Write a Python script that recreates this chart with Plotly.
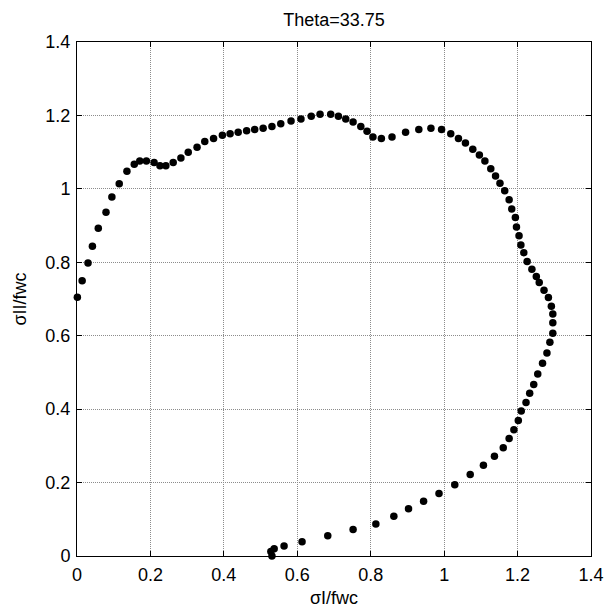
import plotly.graph_objects as go

# stress path
sigma_1 = [0.001, 0.014, 0.030, 0.042, 0.058, 0.079, 0.095, 0.115, 0.136, 0.156,
           0.171, 0.189, 0.210, 0.226, 0.242, 0.262, 0.283, 0.303, 0.327, 0.348,
           0.372, 0.396, 0.417, 0.439, 0.462, 0.484, 0.507, 0.531, 0.555, 0.583,
           0.610, 0.638, 0.662, 0.691, 0.712, 0.732, 0.752, 0.773, 0.790, 0.806,
           0.829, 0.858, 0.895, 0.931, 0.964, 0.993, 1.018, 1.039, 1.058, 1.078,
           1.096, 1.111, 1.127, 1.140, 1.152, 1.165, 1.177, 1.184, 1.194, 1.197,
           1.204, 1.209, 1.217, 1.226, 1.239, 1.251, 1.259, 1.272, 1.284, 1.292,
           1.296, 1.296, 1.296, 1.288, 1.280, 1.268, 1.255, 1.244, 1.233, 1.223,
           1.210, 1.202, 1.190, 1.177, 1.161, 1.137, 1.107, 1.071, 1.029, 0.986,
           0.944, 0.903, 0.863, 0.814, 0.752, 0.683, 0.613, 0.564, 0.537, 0.528,
           0.531]
sigma_2 = [0.705, 0.750, 0.798, 0.844, 0.893, 0.936, 0.978, 1.014, 1.048, 1.067,
           1.076, 1.076, 1.072, 1.063, 1.063, 1.072, 1.084, 1.100, 1.113, 1.129,
           1.137, 1.146, 1.150, 1.154, 1.158, 1.162, 1.165, 1.170, 1.177, 1.185,
           1.190, 1.198, 1.203, 1.203, 1.198, 1.190, 1.182, 1.170, 1.157, 1.141,
           1.137, 1.141, 1.154, 1.162, 1.165, 1.162, 1.150, 1.137, 1.125, 1.108,
           1.092, 1.076, 1.055, 1.035, 1.015, 0.995, 0.970, 0.945, 0.922, 0.896,
           0.872, 0.847, 0.826, 0.802, 0.781, 0.761, 0.745, 0.724, 0.704, 0.680,
           0.659, 0.635, 0.607, 0.582, 0.553, 0.525, 0.496, 0.467, 0.443, 0.418,
           0.395, 0.369, 0.344, 0.320, 0.295, 0.272, 0.247, 0.222, 0.194, 0.170,
           0.149, 0.129, 0.108, 0.087, 0.072, 0.055, 0.039, 0.027, 0.020, 0.012,
           0.000]

tick_vals = [0, 0.2, 0.4, 0.6, 0.8, 1.0, 1.2, 1.4]
tick_text = ["0", "0.2", "0.4", "0.6", "0.8", "1", "1.2", "1.4"]

FONT = "Liberation Sans, Arial, sans-serif"

fig = go.Figure()
fig.add_trace(go.Scatter(
    x=sigma_1, y=sigma_2, mode="markers",
    marker=dict(color="black", size=7.5),
    cliponaxis=False, showlegend=False,
))

axis_style = dict(
    range=[0, 1.4], tickvals=tick_vals, ticktext=tick_text,
    showline=True, linecolor="black", linewidth=1, mirror="ticks",
    ticks="inside", ticklen=5, tickcolor="black",
    showgrid=True, gridcolor="#8c8c8c", griddash="1px,1px", gridwidth=1,
    zeroline=False, tickfont=dict(size=18, color="black", family=FONT),
    automargin=False,
)

fig.update_xaxes(**axis_style, ticklabelstandoff=2,
                 title=dict(text="σI/fwc", font=dict(size=18, color="black"), standoff=7))
fig.update_yaxes(**axis_style, ticklabelstandoff=2,
                 title=dict(text="σII/fwc", font=dict(size=18, color="black"), standoff=14))

fig.update_layout(
    width=606, height=613,
    margin=dict(l=77, r=15, t=42, b=57),
    paper_bgcolor="white", plot_bgcolor="white",
    font=dict(family=FONT, color="black"),
    title=dict(text="Theta=33.75", x=0.5, xref="paper", xanchor="center",
               y=1 - 20 / 613, yref="container", yanchor="middle",
               font=dict(size=18, color="black")),
)

# drop the default 8px page margin so the figure sits at the window's corner
fig.write_html("out.html", config={"displayModeBar": False},
               post_script="document.body.style.margin='0';document.body.style.overflow='hidden';")
